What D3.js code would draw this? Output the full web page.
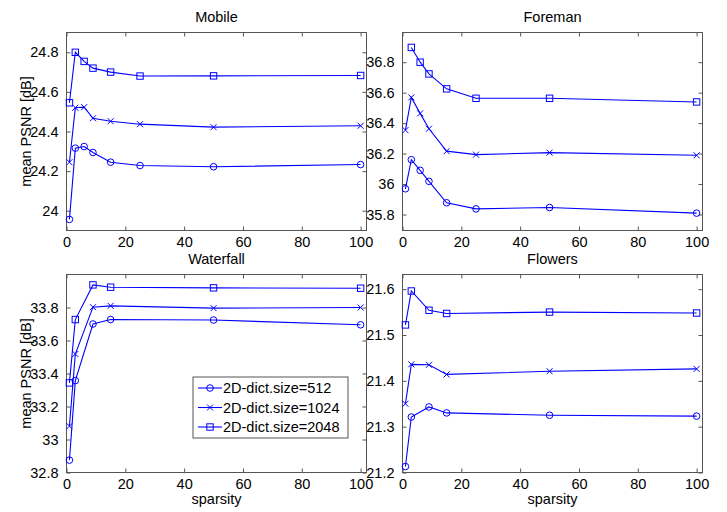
<!DOCTYPE html>
<html>
<head>
<meta charset="utf-8">
<script src="https://cdn.jsdelivr.net/npm/d3@7"></script>
<style>
  body { margin: 0; background: #fff; }
  svg { font-family: "Liberation Sans", Arial, sans-serif; }
</style>
</head>
<body>
<div id="chart"></div>
<script>
// sparsity values used on x
const sparsityFull = [1, 3, 6, 9, 15, 25, 50, 100];
const sparsityShort = [1, 3, 9, 15, 50, 100];

// Mobile
const mobile512  = [23.956, 24.316, 24.324, 24.294, 24.245, 24.228, 24.222, 24.233];
const mobile1024 = [24.245, 24.520, 24.523, 24.467, 24.452, 24.437, 24.422, 24.429];
const mobile2048 = [24.545, 24.800, 24.754, 24.720, 24.700, 24.680, 24.681, 24.683];

// Foreman (no value for 2048 at sparsity 1)
const foreman512  = [35.969, 36.160, 36.090, 36.018, 35.877, 35.837, 35.846, 35.809];
const foreman1024 = [36.354, 36.569, 36.464, 36.363, 36.216, 36.193, 36.206, 36.189];
const foreman2048 = [null, 36.897, 36.800, 36.723, 36.625, 36.563, 36.563, 36.539];

// Waterfall
const waterfall512  = [32.875, 33.357, 33.700, 33.727, 33.724, 33.695];
const waterfall1024 = [33.081, 33.518, 33.802, 33.810, 33.796, 33.800];
const waterfall2048 = [33.343, 33.727, 33.937, 33.923, 33.919, 33.917];

// Flowers
const flowers512  = [21.213, 21.321, 21.343, 21.330, 21.325, 21.323];
const flowers1024 = [21.350, 21.436, 21.435, 21.414, 21.421, 21.426];
const flowers2048 = [21.522, 21.596, 21.554, 21.547, 21.550, 21.548];

const seriesNames = ["2D-dict.size=512", "2D-dict.size=1024", "2D-dict.size=2048"];
const markers = ["circle", "x", "square"];

const xTicks = [0, 20, 40, 60, 80, 100];
const mobileTicks = [24, 24.2, 24.4, 24.6, 24.8];
const foremanTicks = [35.8, 36, 36.2, 36.4, 36.6, 36.8];
const waterfallTicks = [32.8, 33, 33.2, 33.4, 33.6, 33.8];
const flowersTicks = [21.2, 21.3, 21.4, 21.5, 21.6];

const panels = [
  {title: "Mobile", xs: sparsityFull, ys: [mobile512, mobile1024, mobile2048],
   yDomain: [23.9, 24.9], yTicks: mobileTicks, left: 66.5, top: 32.5, ylabel: true, xlabel: false},
  {title: "Foreman", xs: sparsityFull, ys: [foreman512, foreman1024, foreman2048],
   yDomain: [35.695, 36.995], yTicks: foremanTicks, left: 402.5, top: 32.5, ylabel: false, xlabel: false},
  {title: "Waterfall", xs: sparsityShort, ys: [waterfall512, waterfall1024, waterfall2048],
   yDomain: [32.8, 34.0], yTicks: waterfallTicks, left: 66.5, top: 274.5, ylabel: true, xlabel: true, legend: true},
  {title: "Flowers", xs: sparsityShort, ys: [flowers512, flowers1024, flowers2048],
   yDomain: [21.2, 21.632], yTicks: flowersTicks, left: 402.5, top: 274.5, ylabel: false, xlabel: true}
];

const W = 727, H = 512;
const pw = 300, ph = 198;
const blue = "#0000ff";
const axisColor = "#555";

const svg = d3.select("#chart").append("svg")
  .attr("width", W)
  .attr("height", H);

function drawMarker(g, type, x, y) {
  if (type === "circle") {
    g.append("circle").attr("cx", x).attr("cy", y).attr("r", 3.3)
      .attr("fill", "none").attr("stroke", blue);
  } else if (type === "square") {
    g.append("rect").attr("x", x - 3.2).attr("y", y - 3.2).attr("width", 6.4).attr("height", 6.4)
      .attr("fill", "none").attr("stroke", blue);
  } else {
    g.append("path").attr("d", `M${x-3},${y-3}L${x+3},${y+3}M${x-3},${y+3}L${x+3},${y-3}`)
      .attr("stroke", blue).attr("fill", "none");
  }
}

panels.forEach(p => {
  const g = svg.append("g").attr("transform", `translate(${p.left},${p.top})`);
  const x = d3.scaleLinear().domain([0, 102]).range([0, pw]);
  const y = d3.scaleLinear().domain(p.yDomain).range([ph, 0]);

  // frame
  g.append("rect").attr("width", pw).attr("height", ph)
    .attr("fill", "none").attr("stroke", axisColor);

  // bottom / left axes with inward ticks
  const xAxis = g.append("g").attr("transform", `translate(0,${ph})`)
    .call(d3.axisBottom(x).tickValues(xTicks).tickSizeInner(-4).tickSizeOuter(0).tickPadding(6));
  const yAxis = g.append("g")
    .call(d3.axisLeft(y).tickValues(p.yTicks).tickSizeInner(-4).tickSizeOuter(0).tickPadding(8)
      .tickFormat(d3.format("~g")));
  // top / right mirrored ticks
  const xTop = g.append("g")
    .call(d3.axisTop(x).tickValues(xTicks).tickSizeInner(-4).tickSizeOuter(0).tickFormat(""));
  const yRight = g.append("g").attr("transform", `translate(${pw},0)`)
    .call(d3.axisRight(y).tickValues(p.yTicks).tickSizeInner(-4).tickSizeOuter(0).tickFormat(""));

  [xAxis, yAxis, xTop, yRight].forEach(a => {
    a.select(".domain").remove();
    a.selectAll("line").attr("stroke", axisColor);
    a.selectAll("text").attr("fill", "#000").style("font-size", "14.5px");
  });

  // title
  g.append("text").attr("x", pw / 2).attr("y", -11)
    .attr("text-anchor", "middle").style("font-size", "14.5px").text(p.title);

  if (p.ylabel) {
    g.append("text").attr("transform", `translate(-36,${ph / 2}) rotate(-90)`)
      .attr("text-anchor", "middle").style("font-size", "14.5px").text("mean PSNR [dB]");
  }
  if (p.xlabel) {
    g.append("text").attr("x", pw / 2).attr("y", ph + 31)
      .attr("text-anchor", "middle").style("font-size", "14.5px").text("sparsity");
  }

  // lines + markers
  p.ys.forEach((vals, i) => {
    const pts = p.xs.map((xv, j) => [xv, vals[j]]);
    g.append("path")
      .datum(pts)
      .attr("d", d3.line().defined(d => d[1] != null).x(d => x(d[0])).y(d => y(d[1])))
      .attr("fill", "none").attr("stroke", blue).attr("stroke-width", 1.1);
    const mg = g.append("g");
    pts.filter(d => d[1] != null).forEach(d => drawMarker(mg, markers[i], x(d[0]), y(d[1])));
  });

  if (p.legend) {
    const lg = g.append("g").attr("transform", "translate(126.5,102.5)");
    lg.append("rect").attr("width", 155).attr("height", 61)
      .attr("fill", "#fff").attr("stroke", axisColor);
    seriesNames.forEach((name, i) => {
      const yy = 11 + i * 19.5;
      lg.append("line").attr("x1", 5).attr("x2", 29).attr("y1", yy).attr("y2", yy)
        .attr("stroke", blue).attr("stroke-width", 1.1);
      drawMarker(lg, markers[i], 17, yy);
      lg.append("text").attr("x", 30).attr("y", yy).attr("dy", "0.35em")
        .style("font-size", "14.5px").text(name);
    });
  }
});
</script>
</body>
</html>
